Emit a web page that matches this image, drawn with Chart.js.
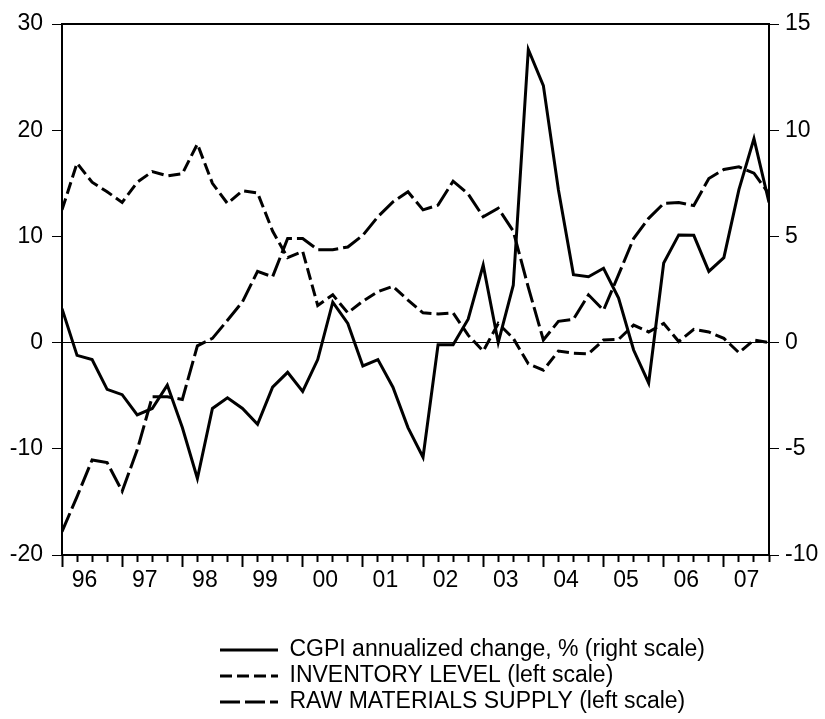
<!DOCTYPE html>
<html>
<head>
<meta charset="utf-8">
<title>CGPI, inventory level and raw materials supply</title>
<script src="https://cdn.jsdelivr.net/npm/chart.js@4.4.1/dist/chart.umd.min.js"></script>
<style>
  html, body { margin: 0; padding: 0; background: #fff; }
  canvas { display: block; }
</style>
</head>
<body>
<canvas id="chart" width="825" height="719"></canvas>
<script>
// quarterly observations, 1996Q1 .. 2007Q4
const firstYear = 1996;
const yearLabels = ['96', '97', '98', '99', '00', '01', '02', '03', '04', '05', '06', '07'];

// CGPI annualized change, % (right scale)
const cgpi = [
  1.6, -0.6, -0.8, -2.2, -2.45, -3.4, -3.1, -2.0,
  -4.0, -6.4, -3.1, -2.6, -3.1, -3.85, -2.1, -1.4,
  -2.3, -0.8, 1.9, 0.9, -1.1, -0.8, -2.1, -4.0,
  -5.4, -0.1, -0.1, 1.1, 3.65, 0.0, 2.7, 13.8,
  12.1, 7.2, 3.2, 3.1, 3.5, 2.1, -0.35, -1.9,
  3.75, 5.07, 5.05, 3.35, 4.0, 7.2, 9.6, 6.6
];

// INVENTORY LEVEL (left scale)
const inventory = [
  12.5, 16.9, 15.1, 14.2, 13.2, 15.1, 16.1, 15.7,
  15.9, 18.7, 15.0, 13.1, 14.3, 14.1, 10.5, 8.0,
  8.6, 3.5, 4.5, 2.8, 3.9, 4.8, 5.3, 4.0,
  2.8, 2.7, 2.8, 0.7, -0.8, 1.8, 0.4, -2.0,
  -2.6, -0.8, -1.0, -1.05, 0.25, 0.3, 1.65, 1.0,
  1.8, 0.1, 1.25, 1.0, 0.4, -0.95, 0.25, 0.0
];

// RAW MATERIALS SUPPLY (left scale)
const rawMaterials = [
  -17.8, -14.5, -11.05, -11.3, -14.0, -10.1, -5.1, -5.1,
  -5.35, -0.3, 0.4, 2.1, 3.85, 6.7, 6.2, 9.8,
  9.8, 8.75, 8.75, 9.0, 10.1, 11.85, 13.25, 14.2,
  12.5, 12.95, 15.2, 14.0, 11.85, 12.65, 10.5, 5.2,
  0.25, 2.0, 2.2, 4.5, 3.05, 6.4, 9.8, 11.7,
  13.1, 13.2, 12.9, 15.45, 16.3, 16.55, 15.95, 14.0
];

const FONT = "'Liberation Sans', Arial, sans-serif";
Chart.defaults.font.family = FONT;
Chart.defaults.font.size = 23;
Chart.defaults.color = '#000';

const toPoints = arr => arr.map((v, i) => ({ x: firstYear + i / 4, y: v }));
const lastX = firstYear + (cgpi.length - 1) / 4;
const LEGEND_X = 220;

const isYearLabel = v => Number.isInteger(v - firstYear - 0.375);
const isYearStart = v => Number.isInteger(v - firstYear);

// rows of the legend all start at the same x, like the original
const legendRows = {
  id: 'legendRows',
  afterLayout(chart) {
    const lg = chart.legend;
    if (!lg || !lg.lineWidths) return;
    const pad = lg.options.labels.padding;
    const w = lg.left + pad + lg.right - 2 * LEGEND_X;
    lg.lineWidths = lg.lineWidths.map(() => w);
  }
};

const line = { borderColor: '#000', borderWidth: 3, pointRadius: 0, tension: 0, fill: false };

new Chart(document.getElementById('chart'), {
  type: 'line',
  data: {
    datasets: [
      { ...line, label: 'CGPI annualized change, % (right scale)', data: toPoints(cgpi), yAxisID: 'y1' },
      { ...line, label: 'INVENTORY LEVEL (left scale)', data: toPoints(inventory), yAxisID: 'y', borderDash: [12, 5] },
      { ...line, label: 'RAW MATERIALS SUPPLY (left scale)', data: toPoints(rawMaterials), yAxisID: 'y', borderDash: [20, 5] }
    ]
  },
  options: {
    responsive: false,
    animation: false,
    events: [],
    layout: { padding: { top: 24, bottom: -4.5, left: 0, right: 0 } },
    scales: {
      x: {
        type: 'linear',
        position: 'bottom',
        min: firstYear,
        max: lastX,
        afterBuildTicks: scale => {
          const ticks = [];
          for (let q = 0; q < cgpi.length; q++) ticks.push({ value: firstYear + q / 4 });
          yearLabels.forEach((_, k) => ticks.push({ value: firstYear + k + 0.375 }));
          ticks.sort((a, b) => a.value - b.value);
          scale.ticks = ticks;
        },
        afterFit: scale => { scale.height = 80.5; },
        ticks: {
          autoSkip: false,
          maxRotation: 0,
          padding: 0,
          callback: value => isYearLabel(value) ? yearLabels[value - firstYear - 0.375] : ''
        },
        grid: {
          drawOnChartArea: false,
          tickLength: 12,
          tickWidth: 2,
          tickColor: ctx => isYearLabel(ctx.tick.value) ? 'rgba(0,0,0,0)' : '#000',
          tickBorderDash: ctx => isYearStart(ctx.tick.value) ? [] : [6, 100]
        },
        border: { color: '#000', width: 2 }
      },
      xTop: {
        type: 'linear',
        position: 'top',
        min: firstYear,
        max: lastX,
        afterFit: scale => { scale.height = 0; },
        ticks: { display: false },
        grid: { display: false, drawTicks: false },
        border: { display: true, color: '#000', width: 2 }
      },
      y: {
        position: 'left',
        min: -20,
        max: 30,
        afterFit: scale => { scale.width = 62; },
        ticks: { stepSize: 10, padding: 9 },
        grid: {
          color: ctx => ctx.tick && ctx.tick.value === 0 ? '#000' : 'rgba(0,0,0,0)',
          lineWidth: 1,
          tickLength: 10,
          tickColor: '#000',
          tickWidth: 1
        },
        border: { color: '#000', width: 2 }
      },
      y1: {
        position: 'right',
        min: -10,
        max: 15,
        afterFit: scale => { scale.width = 56; },
        ticks: { stepSize: 5, padding: 6 },
        grid: { drawOnChartArea: false, tickLength: 10, tickColor: '#000', tickWidth: 1 },
        border: { color: '#000', width: 2 }
      }
    },
    plugins: {
      legend: {
        position: 'bottom',
        align: 'center',
        labels: {
          usePointStyle: true,
          pointStyle: 'line',
          pointStyleWidth: 58,
          padding: 3,
          color: '#000',
          font: { size: 23 },
          generateLabels: chart => {
            const items = Chart.defaults.plugins.legend.labels.generateLabels(chart);
            items.forEach(item => {
              const ds = chart.data.datasets[item.datasetIndex];
              item.lineDash = ds.borderDash || [];
              item.lineWidth = ds.borderWidth;
              item.strokeStyle = ds.borderColor;
            });
            return items;
          }
        }
      },
      tooltip: { enabled: false }
    }
  },
  plugins: [legendRows]
});
</script>
</body>
</html>
